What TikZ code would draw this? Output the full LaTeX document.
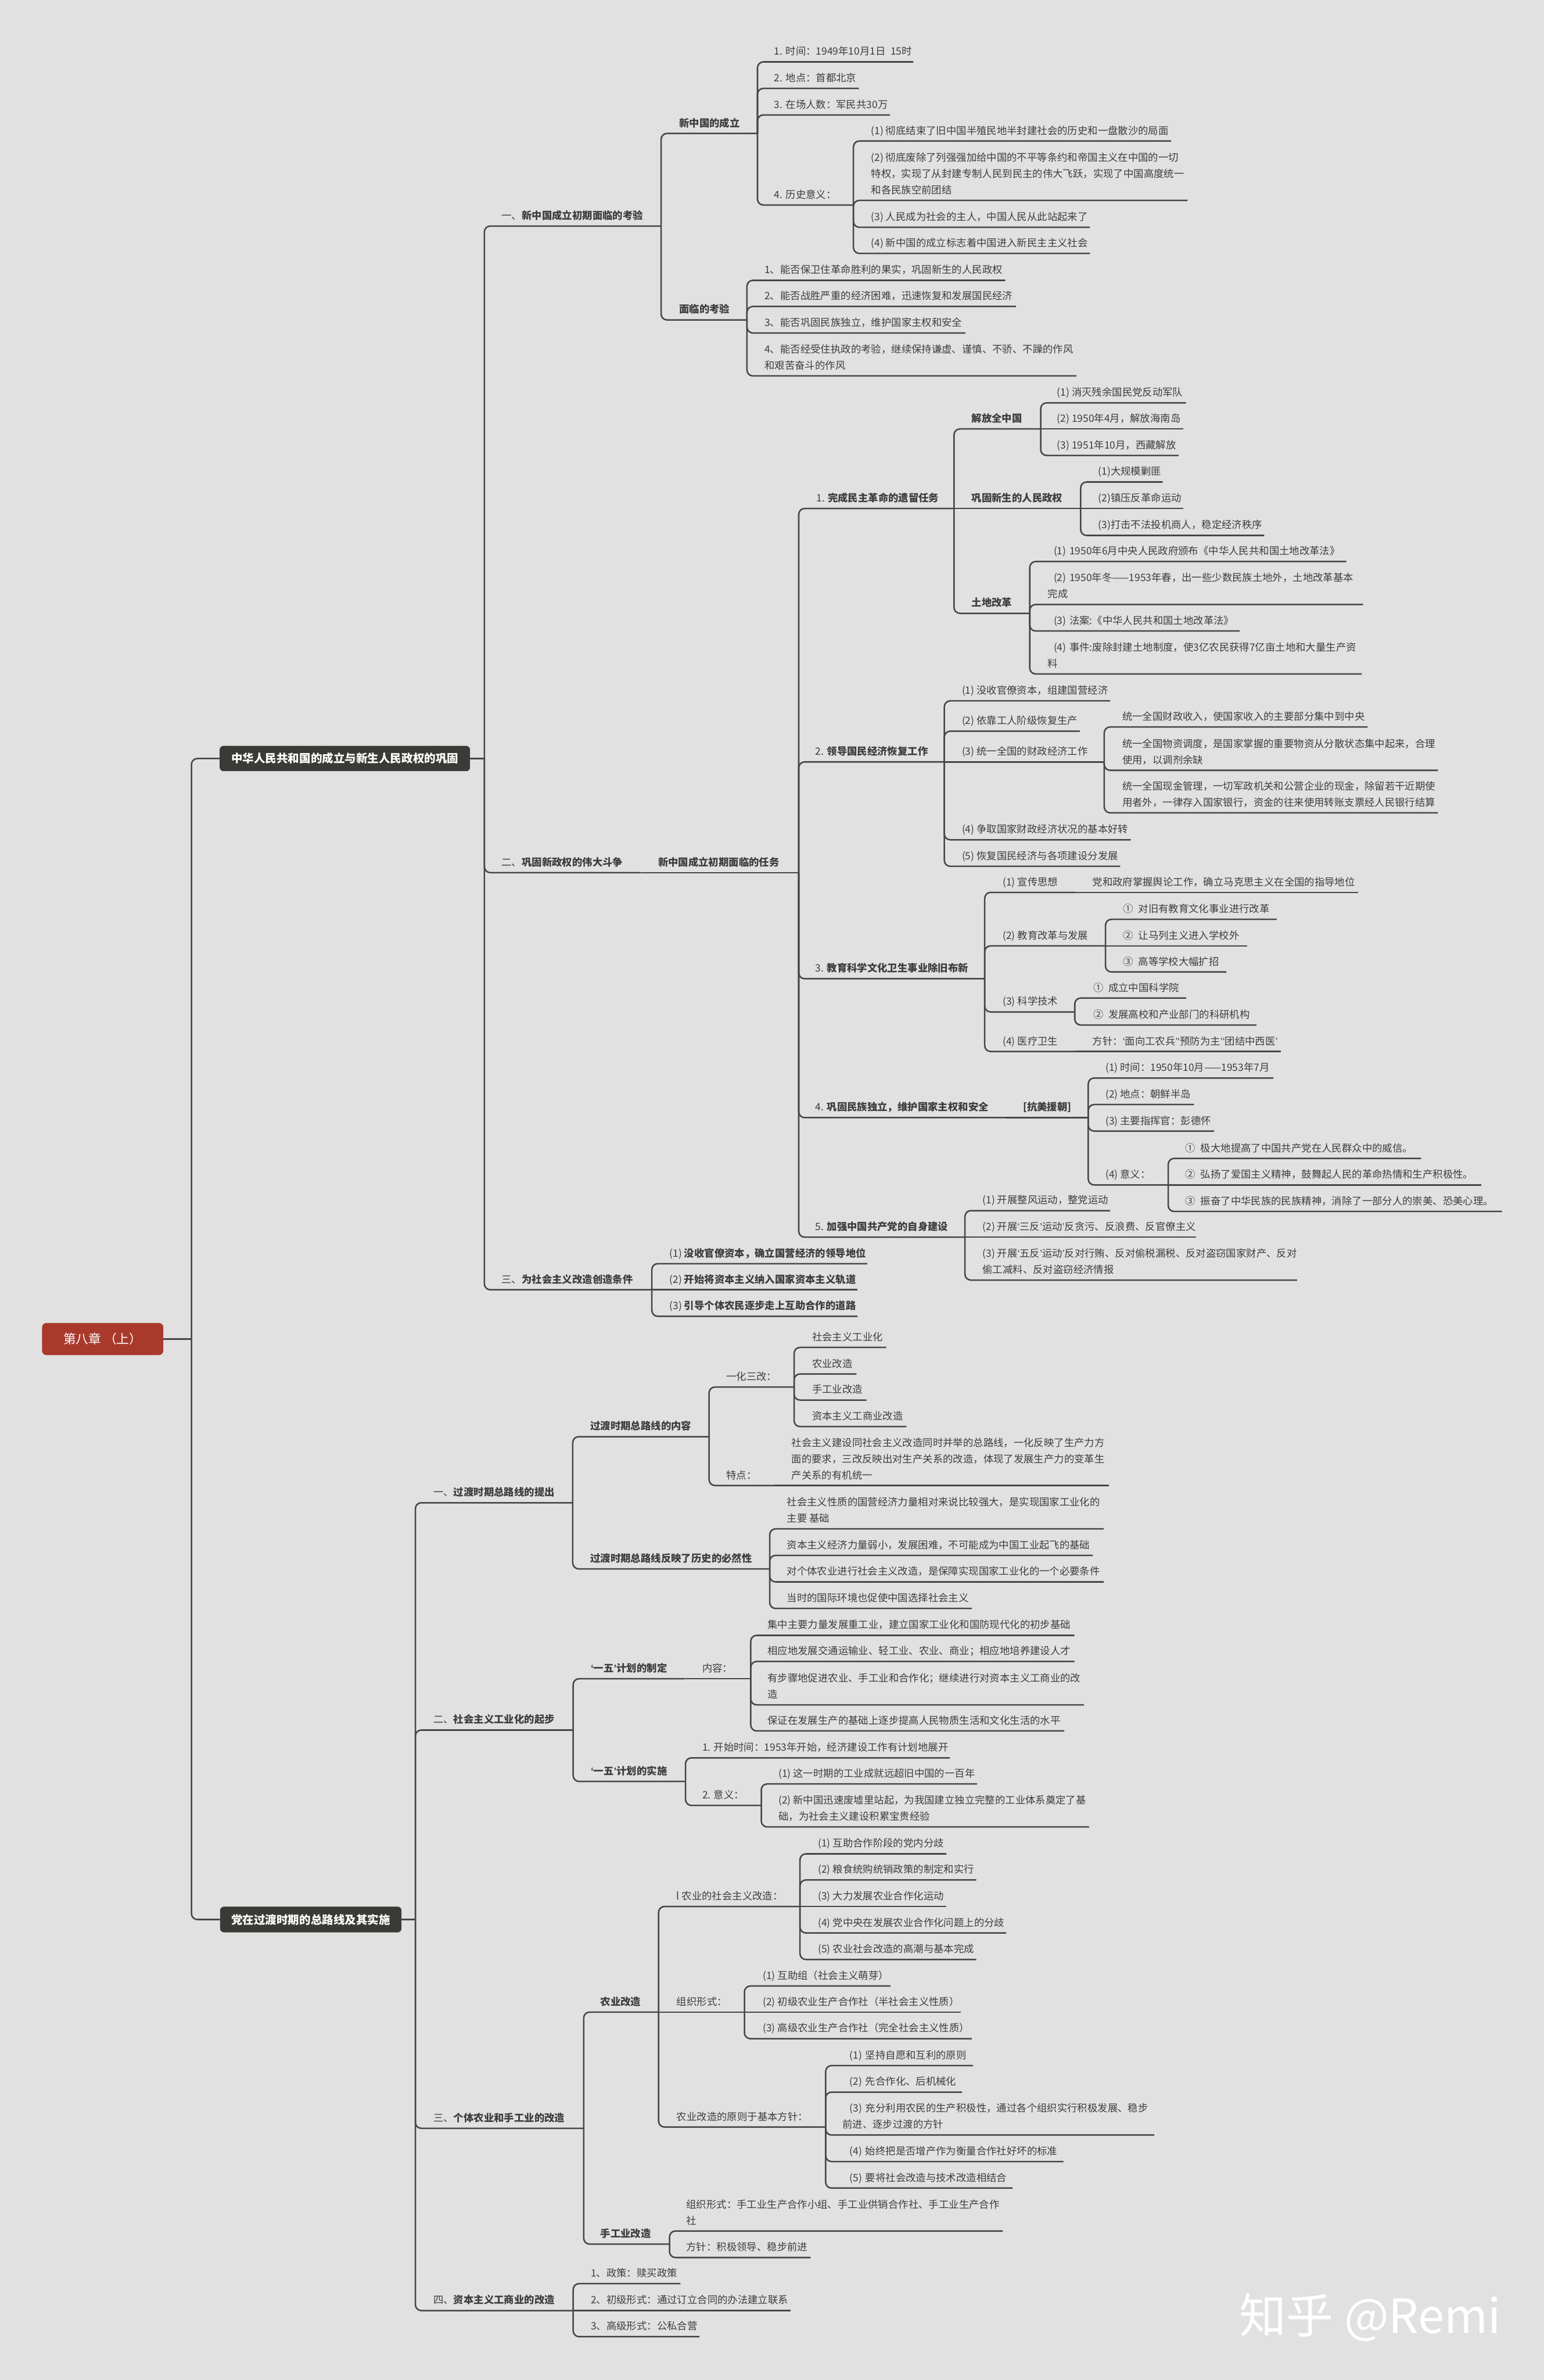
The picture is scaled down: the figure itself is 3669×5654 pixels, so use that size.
\documentclass[tikz,border=0pt]{standalone}
\usepackage{fontspec}
\setmainfont{Noto Sans CJK SC}
\newfontfamily\myqf{Liberation Sans}
\newcommand{\myqo}{{\myqf ‘}}
\newcommand{\myqc}{{\myqf ’}}
\definecolor{bgc}{HTML}{E1E1E1}
\definecolor{lnc}{HTML}{464646}
\definecolor{txc}{HTML}{3D3D3D}
\definecolor{boxc}{HTML}{3A3A36}
\definecolor{chred}{HTML}{A93A2B}
\newcommand{\fs}{\fontsize{24}{38.5}\selectfont}
\newcommand{\mmnode}[5]{\coordinate (#1-r) at (#4,#3); \node[lbl] (#1) at (#2,#3-11) {#5};}
\newcommand{\mmconn}[2]{\draw[br] (#1-r) |- (#2-r);}
\newcommand{\mminl}[2]{\draw[br] (#1-r) -- (#2-r);}
\tikzset{
  lbl/.style={anchor=south west, inner sep=0pt, outer sep=0pt, text depth=5pt, align=left, font=\fs, text=txc},
  br/.style={draw=lnc, line width=3.5pt, rounded corners=14pt},
  mbox/.style={fill=boxc, rounded corners=9pt, text=white, font=\fontsize{27}{30}\selectfont\bfseries, inner sep=0pt},
  rbox/.style={fill=chred, rounded corners=10pt, text=white, font=\fontsize{30}{34}\selectfont, inner sep=0pt}
}
\begin{document}
\begin{tikzpicture}[x=1pt,y=-1pt]
\fill[bgc] (0,0) rectangle (3669,5654);
\useasboundingbox (0,0) rectangle (3669,5654);

% root and main boxes
\node[rbox, minimum width=288pt, minimum height=76pt] (root) at (244,3181) {第八章 （上）};
\coordinate (root-r) at (455,3181);
\node[mbox, minimum width=595pt, minimum height=60pt] (m1) at (819.5,1802) {中华人民共和国的成立与新生人民政权的巩固};
\coordinate (m1-r) at (1151,1802);
\node[mbox, minimum width=431pt, minimum height=61pt] (m2) at (738.5,4560) {党在过渡时期的总路线及其实施};
\coordinate (m2-r) at (987,4560);
\draw[br] (root.east) -- (root-r);
\draw[br] (root-r) |- (m1.west);
\draw[br] (root-r) |- (m2.west);
\draw[br] (m1.east) -- (m1-r);
\draw[br] (m2.east) -- (m2-r);

% ===== main 1 =====
\mmnode{a1}{1192}{537}{1571}{一、\textbf{新中国成立初期面临的考验}}
\mmnode{a2}{1192}{2073}{1522}{二、\textbf{巩固新政权的伟大斗争}}
\mmnode{a3}{1192}{3064}{1549}{三、\textbf{为社会主义改造创造条件}}
\mmconn{m1}{a1} \mmconn{m1}{a2} \mmconn{m1}{a3}

\mmnode{b1}{1614}{317}{1800}{\textbf{新中国的成立}}
\mmnode{b2}{1614}{760}{1775}{\textbf{面临的考验}}
\mmconn{a1}{b1} \mmconn{a1}{b2}

\mmnode{c1}{1840}{147}{2170}{1. 时间：1949年10月1日\hspace{12pt}15时}
\mmnode{c2}{1840}{210}{2041}{2. 地点：首都北京}
\mmnode{c3}{1840}{273}{2115}{3. 在场人数：军民共30万}
\mmnode{c4}{1840}{487}{2028}{4. 历史意义：}
\mmconn{b1}{c1} \mmconn{b1}{c2} \mmconn{b1}{c3} \mmconn{b1}{c4}

\mmnode{d1}{2070}{335}{2783}{(1) 彻底结束了旧中国半殖民地半封建社会的历史和一盘散沙的局面}
\mmnode{d2}{2070}{476}{2822}{(2) 彻底废除了列强强加给中国的不平等条约和帝国主义在中国的一切\\特权，实现了从封建专制人民到民主的伟大飞跃，实现了中国高度统一\\和各民族空前团结}
\mmnode{d3}{2070}{540}{2590}{(3) 人民成为社会的主人，中国人民从此站起来了}
\mmnode{d4}{2070}{602}{2590}{(4) 新中国的成立标志着中国进入新民主主义社会}
\mmconn{c4}{d1} \mmconn{c4}{d2} \mmconn{c4}{d3} \mmconn{c4}{d4}

\mmnode{e1}{1817}{666}{2389}{1、能否保卫住革命胜利的果实，巩固新生的人民政权}
\mmnode{e2}{1817}{728}{2414}{2、能否战胜严重的经济困难，迅速恢复和发展国民经济}
\mmnode{e3}{1817}{791}{2294}{3、能否巩固民族独立，维护国家主权和安全}
\mmnode{e4}{1817}{893}{2558}{4、能否经受住执政的考验，继续保持谦虚、谨慎、不骄、不躁的作风\\和艰苦奋斗的作风}
\mmconn{b2}{e1} \mmconn{b2}{e2} \mmconn{b2}{e3} \mmconn{b2}{e4}

\mmnode{f}{1564}{2073}{1898}{\textbf{新中国成立初期面临的任务}}
\mminl{a2}{f}

\mmnode{g1}{1940}{1208}{2267}{1. \textbf{完成民主革命的遗留任务}}
\mmnode{g2}{1938}{1810}{2244}{2. \textbf{领导国民经济恢复工作}}
\mmnode{g3}{1938}{2325}{2340}{3. \textbf{教育科学文化卫生事业除旧布新}}
\mmnode{g4}{1938}{2655}{2390}{4. \textbf{巩固民族独立，维护国家主权和安全}}
\mmnode{g5}{1938}{2939}{2293}{5. \textbf{加强中国共产党的自身建设}}
\mmconn{f}{g1} \mmconn{f}{g2} \mmconn{f}{g3} \mmconn{f}{g4} \mmconn{f}{g5}

\mmnode{h1}{2309}{1019}{2473}{\textbf{解放全中国}}
\mmnode{h2}{2309}{1208}{2568}{\textbf{巩固新生的人民政权}}
\mmnode{h3}{2309}{1457}{2447}{\textbf{土地改革}}
\mmconn{g1}{h1} \mminl{g1}{h2} \mmconn{g1}{h3}

\mmnode{h1a}{2512}{957}{2818}{(1) 消灭残余国民党反动军队}
\mmnode{h1b}{2512}{1019}{2812}{(2) 1950年4月，解放海南岛}
\mmnode{h1c}{2512}{1082}{2801}{(3) 1951年10月，西藏解放}
\mmconn{h1}{h1a} \mminl{h1}{h1b} \mmconn{h1}{h1c}

\mmnode{h2a}{2610}{1145}{2763}{(1)大规模剿匪}
\mmnode{h2b}{2610}{1208}{2812}{(2)镇压反革命运动}
\mmnode{h2c}{2610}{1272}{3004}{(3)打击不法投机商人，稳定经济秩序}
\mmconn{h2}{h2a} \mminl{h2}{h2b} \mmconn{h2}{h2c}

\mmnode{h3a}{2490}{1334}{3199}{\hspace*{14pt}(1)\hspace{8pt}1950年6月中央人民政府颁布《中华人民共和国土地改革法》}
\mmnode{h3b}{2490}{1436}{3239}{\hspace*{14pt}(2)\hspace{8pt}1950年冬——1953年春，出一些少数民族土地外，土地改革基本\\完成}
\mmnode{h3c}{2490}{1499}{2946}{\hspace*{14pt}(3)\hspace{8pt}法案:《中华人民共和国土地改革法》}
\mmnode{h3d}{2490}{1601}{3236}{\hspace*{14pt}(4)\hspace{8pt}事件:废除封建土地制度，使3亿农民获得7亿亩土地和大量生产资\\料}
\mmconn{h3}{h3a} \mmconn{h3}{h3b} \mmconn{h3}{h3c} \mmconn{h3}{h3d}

\mmnode{g2a}{2286}{1665}{2638}{(1) 没收官僚资本，组建国营经济}
\mmnode{g2b}{2286}{1737}{2566}{(2) 依靠工人阶级恢复生产}
\mmnode{g2c}{2286}{1810}{2624}{(3) 统一全国的财政经济工作}
\mmnode{g2d}{2286}{1995}{2687}{(4) 争取国家财政经济状况的基本好转}
\mmnode{g2e}{2286}{2058}{2662}{(5) 恢复国民经济与各项建设分发展}
\mmconn{g2}{g2a} \mmconn{g2}{g2b} \mminl{g2}{g2c} \mmconn{g2}{g2d} \mmconn{g2}{g2e}

\mmnode{g2c1}{2667}{1727}{3250}{统一全国财政收入，使国家收入的主要部分集中到中央}
\mmnode{g2c2}{2667}{1830}{3417}{统一全国物资调度，是国家掌握的重要物资从分散状态集中起来，合理\\使用，以调剂余缺}
\mmnode{g2c3}{2667}{1931}{3417}{统一全国现金管理，一切军政机关和公营企业的现金，除留若干近期使\\用者外，一律存入国家银行，资金的往来使用转账支票经人民银行结算}
\mmconn{g2c}{g2c1} \mmconn{g2c}{g2c2} \mmconn{g2c}{g2c3}

\mmnode{g3a}{2383}{2120}{2555}{(1) 宣传思想}
\mmnode{g3a1}{2596}{2120}{3227}{党和政府掌握舆论工作，确立马克思主义在全国的指导地位}
\mmnode{g3b}{2383}{2247}{2627}{(2) 教育改革与发展}
\mmnode{g3c}{2383}{2404}{2554}{(3) 科学技术}
\mmnode{g3d}{2383}{2498}{2555}{(4) 医疗卫生}
\mmnode{g3d1}{2596}{2498}{3043}{方针：\myqo 面向工农兵\myqc\myqo 预防为主\myqc\myqo 团结中西医\myqc}
\mmconn{g3}{g3a} \mmconn{g3}{g3b} \mmconn{g3}{g3c} \mmconn{g3}{g3d}
\mminl{g3a}{g3a1} \mminl{g3d}{g3d1}

\mmnode{g3b1}{2669}{2184}{3034}{①\hspace{12pt}对旧有教育文化事业进行改革}
\mmnode{g3b2}{2669}{2247}{2963}{②\hspace{12pt}让马列主义进入学校外}
\mmnode{g3b3}{2669}{2309}{2914}{③\hspace{12pt}高等学校大幅扩招}
\mmconn{g3b}{g3b1} \mminl{g3b}{g3b2} \mmconn{g3b}{g3b3}

\mmnode{g3c1}{2598}{2371}{2819}{①\hspace{12pt}成立中国科学院}
\mmnode{g3c2}{2598}{2435}{2986}{②\hspace{12pt}发展高校和产业部门的科研机构}
\mmconn{g3c}{g3c1} \mmconn{g3c}{g3c2}

\mmnode{k}{2431}{2655}{2586}{\textbf{[抗美援朝]}}
\mminl{g4}{k}
\mmnode{k1}{2627}{2561}{3026}{(1) 时间：1950年10月——1953年7月}
\mmnode{k2}{2627}{2624}{2837}{(2) 地点：朝鲜半岛}
\mmnode{k3}{2627}{2687}{2885}{(3) 主要指挥官：彭德怀}
\mmnode{k4}{2627}{2815}{2776}{(4) 意义：}
\mmconn{k}{k1} \mmconn{k}{k2} \mmconn{k}{k3} \mmconn{k}{k4}

\mmnode{k41}{2817}{2752}{3377}{①\hspace{12pt}极大地提高了中国共产党在人民群众中的威信。}
\mmnode{k42}{2817}{2815}{3520}{②\hspace{12pt}弘扬了爱国主义精神，鼓舞起人民的革命热情和生产积极性。}
\mmnode{k43}{2817}{2878}{3569}{③\hspace{12pt}振奋了中华民族的民族精神，消除了一部分人的崇美、恐美心理。}
\mmconn{k4}{k41} \mminl{k4}{k42} \mmconn{k4}{k43}

\mmnode{g5a}{2335}{2876}{2638}{(1) 开展整风运动，整党运动}
\mmnode{g5b}{2335}{2939}{2842}{(2) 开展\myqo 三反\myqc 运动\myqc 反贪污、反浪费、反官僚主义}
\mmnode{g5c}{2335}{3041}{3082}{(3) 开展\myqo 五反\myqc 运动\myqc 反对行贿、反对偷税漏税、反对盗窃国家财产、反对\\偷工减料、反对盗窃经济情报}
\mmconn{g5}{g5a} \mminl{g5}{g5b} \mmconn{g5}{g5c}

\mmnode{a3a}{1591}{3002}{2061}{(1) \textbf{没收官僚资本，确立国营经济的领导地位}}
\mmnode{a3b}{1591}{3064}{2038}{(2) \textbf{开始将资本主义纳入国家资本主义轨道}}
\mmnode{a3c}{1591}{3127}{2038}{(3) \textbf{引导个体农民逐步走上互助合作的道路}}
\mmconn{a3}{a3a} \mminl{a3}{a3b} \mmconn{a3}{a3c}

% ===== main 2 =====
\mmnode{p1}{1030}{3570}{1361}{一、\textbf{过渡时期总路线的提出}}
\mmnode{p2}{1030}{4110}{1362}{二、\textbf{社会主义工业化的起步}}
\mmnode{p3}{1030}{5056}{1387}{三、\textbf{个体农业和手工业的改造}}
\mmnode{p4}{1030}{5489}{1362}{四、\textbf{资本主义工商业的改造}}
\mmconn{m2}{p1} \mmconn{m2}{p2} \mmconn{m2}{p3} \mmconn{m2}{p4}

\mmnode{q1}{1403}{3413}{1685}{\textbf{过渡时期总路线的内容}}
\mmnode{q2}{1403}{3727}{1829}{\textbf{过渡时期总路线反映了历史的必然性}}
\mmconn{p1}{q1} \mmconn{p1}{q2}

\mmnode{r1}{1726}{3295}{1887}{一化三改：}
\mmnode{r2}{1726}{3529}{1840}{特点：}
\mmnode{r21}{1881}{3529}{2635}{社会主义建设同社会主义改造同时并举的总路线，一化反映了生产力方\\面的要求，三改反映出对生产关系的改造，体现了发展生产力的变革生\\产关系的有机统一}
\mmconn{q1}{r1} \mmconn{q1}{r2} \mminl{r2}{r21}

\mmnode{r11}{1930}{3201}{2106}{社会主义工业化}
\mmnode{r12}{1930}{3264}{2035}{农业改造}
\mmnode{r13}{1930}{3326}{2059}{手工业改造}
\mmnode{r14}{1930}{3389}{2154}{资本主义工商业改造}
\mmconn{r1}{r11} \mmconn{r1}{r12} \mmconn{r1}{r13} \mmconn{r1}{r14}

\mmnode{q21}{1870}{3632}{2623}{社会主义性质的国营经济力量相对来说比较强大，是实现国家工业化的\\主要 基础}
\mmnode{q22}{1870}{3695}{2597}{资本主义经济力量弱小，发展困难，不可能成为中国工业起飞的基础}
\mmnode{q23}{1870}{3758}{2623}{对个体农业进行社会主义改造，是保障实现国家工业化的一个必要条件}
\mmnode{q24}{1870}{3821}{2309}{当时的国际环境也促使中国选择社会主义}
\mmconn{q2}{q21} \mmconn{q2}{q22} \mmconn{q2}{q23} \mmconn{q2}{q24}

\mmnode{s1}{1404}{3988}{1627}{\textbf{\myqo 一五\myqc 计划的制定}}
\mmnode{s11}{1669}{3988}{1784}{内容：}
\mmnode{s2}{1404}{4232}{1629}{\textbf{\myqo 一五\myqc 计划的实施}}
\mmconn{p2}{s1} \mmconn{p2}{s2} \mminl{s1}{s11}

\mmnode{s111}{1824}{3885}{2553}{集中主要力量发展重工业，建立国家工业化和国防现代化的初步基础}
\mmnode{s112}{1824}{3947}{2553}{相应地发展交通运输业、轻工业、农业、商业；相应地培养建设人才}
\mmnode{s113}{1824}{4050}{2576}{有步骤地促进农业、手工业和合作化；继续进行对资本主义工商业的改\\造}
\mmnode{s114}{1824}{4112}{2529}{保证在发展生产的基础上逐步提高人民物质生活和文化生活的水平}
\mmconn{s11}{s111} \mmconn{s11}{s112} \mmconn{s11}{s113} \mmconn{s11}{s114}

\mmnode{s21}{1669}{4176}{2257}{1. 开始时间：1953年开始，经济建设工作有计划地展开}
\mmnode{s22}{1669}{4289}{1809}{2. 意义：}
\mmconn{s2}{s21} \mmconn{s2}{s22}

\mmnode{s221}{1850}{4238}{2322}{(1) 这一时期的工业成就远超旧中国的一百年}
\mmnode{s222}{1850}{4340}{2588}{(2) 新中国迅速废墟里站起，为我国建立独立完整的工业体系奠定了基\\础，为社会主义建设积累宝贵经验}
\mmconn{s22}{s221} \mmconn{s22}{s222}

\mmnode{t1}{1427}{4780}{1565}{\textbf{农业改造}}
\mmnode{t2}{1427}{5331}{1591}{\textbf{手工业改造}}
\mmconn{p3}{t1} \mmconn{p3}{t2}

\mmnode{u1}{1608}{4529}{1901}{l 农业的社会主义改造：}
\mmnode{u2}{1608}{4780}{1769}{组织形式：}
\mmnode{u3}{1608}{5053}{1962}{农业改造的原则于基本方针：}
\mmconn{t1}{u1} \mminl{t1}{u2} \mmconn{t1}{u3}

\mmnode{u11}{1944}{4404}{2249}{(1) 互助合作阶段的党内分歧}
\mmnode{u12}{1944}{4466}{2320}{(2) 粮食统购统销政策的制定和实行}
\mmnode{u13}{1944}{4529}{2249}{(3) 大力发展农业合作化运动}
\mmnode{u14}{1944}{4592}{2391}{(4) 党中央在发展农业合作化问题上的分歧}
\mmnode{u15}{1944}{4655}{2320}{(5) 农业社会改造的高潮与基本完成}
\mmconn{u1}{u11} \mmconn{u1}{u12} \mminl{u1}{u13} \mmconn{u1}{u14} \mmconn{u1}{u15}

\mmnode{u21}{1813}{4718}{2116}{(1) 互助组（社会主义萌芽）}
\mmnode{u22}{1813}{4780}{2283}{(2) 初级农业生产合作社（半社会主义性质）}
\mmnode{u23}{1813}{4843}{2309}{(3) 高级农业生产合作社（完全社会主义性质）}
\mmconn{u2}{u21} \mminl{u2}{u22} \mmconn{u2}{u23}

\mmnode{u31}{2002}{4907}{2312}{\hspace*{17pt}(1)\hspace{8pt}坚持自愿和互利的原则}
\mmnode{u32}{2002}{4970}{2286}{\hspace*{17pt}(2)\hspace{8pt}先合作化、后机械化}
\mmnode{u33}{2002}{5072}{2743}{\hspace*{17pt}(3)\hspace{8pt}充分利用农民的生产积极性，通过各个组织实行积极发展、稳步\\前进、逐步过渡的方针}
\mmnode{u34}{2002}{5135}{2527}{\hspace*{17pt}(4)\hspace{8pt}始终把是否增产作为衡量合作社好坏的标准}
\mmnode{u35}{2002}{5198}{2406}{\hspace*{17pt}(5)\hspace{8pt}要将社会改造与技术改造相结合}
\mmconn{u3}{u31} \mmconn{u3}{u32} \mmconn{u3}{u33} \mmconn{u3}{u34} \mmconn{u3}{u35}

\mmnode{t21}{1631}{5300}{2383}{组织形式：手工业生产合作小组、手工业供销合作社、手工业生产合作\\社}
\mmnode{t22}{1631}{5363}{1926}{方针：积极领导、稳步前进}
\mmconn{t2}{t21} \mmconn{t2}{t22}

\mmnode{v1}{1404}{5425}{1617}{1、政策：赎买政策}
\mmnode{v2}{1404}{5489}{1878}{2、初级形式：通过订立合同的办法建立联系}
\mmnode{v3}{1404}{5551}{1662}{3、高级形式：公私合营}
\mmconn{p4}{v1} \mminl{p4}{v2} \mmconn{p4}{v3}

% watermark
\node[anchor=west, inner sep=0pt, text=white, font=\fontsize{112}{112}\selectfont] (wm) at (2945,5505) {知乎 @Remi};
\end{tikzpicture}
\end{document}
